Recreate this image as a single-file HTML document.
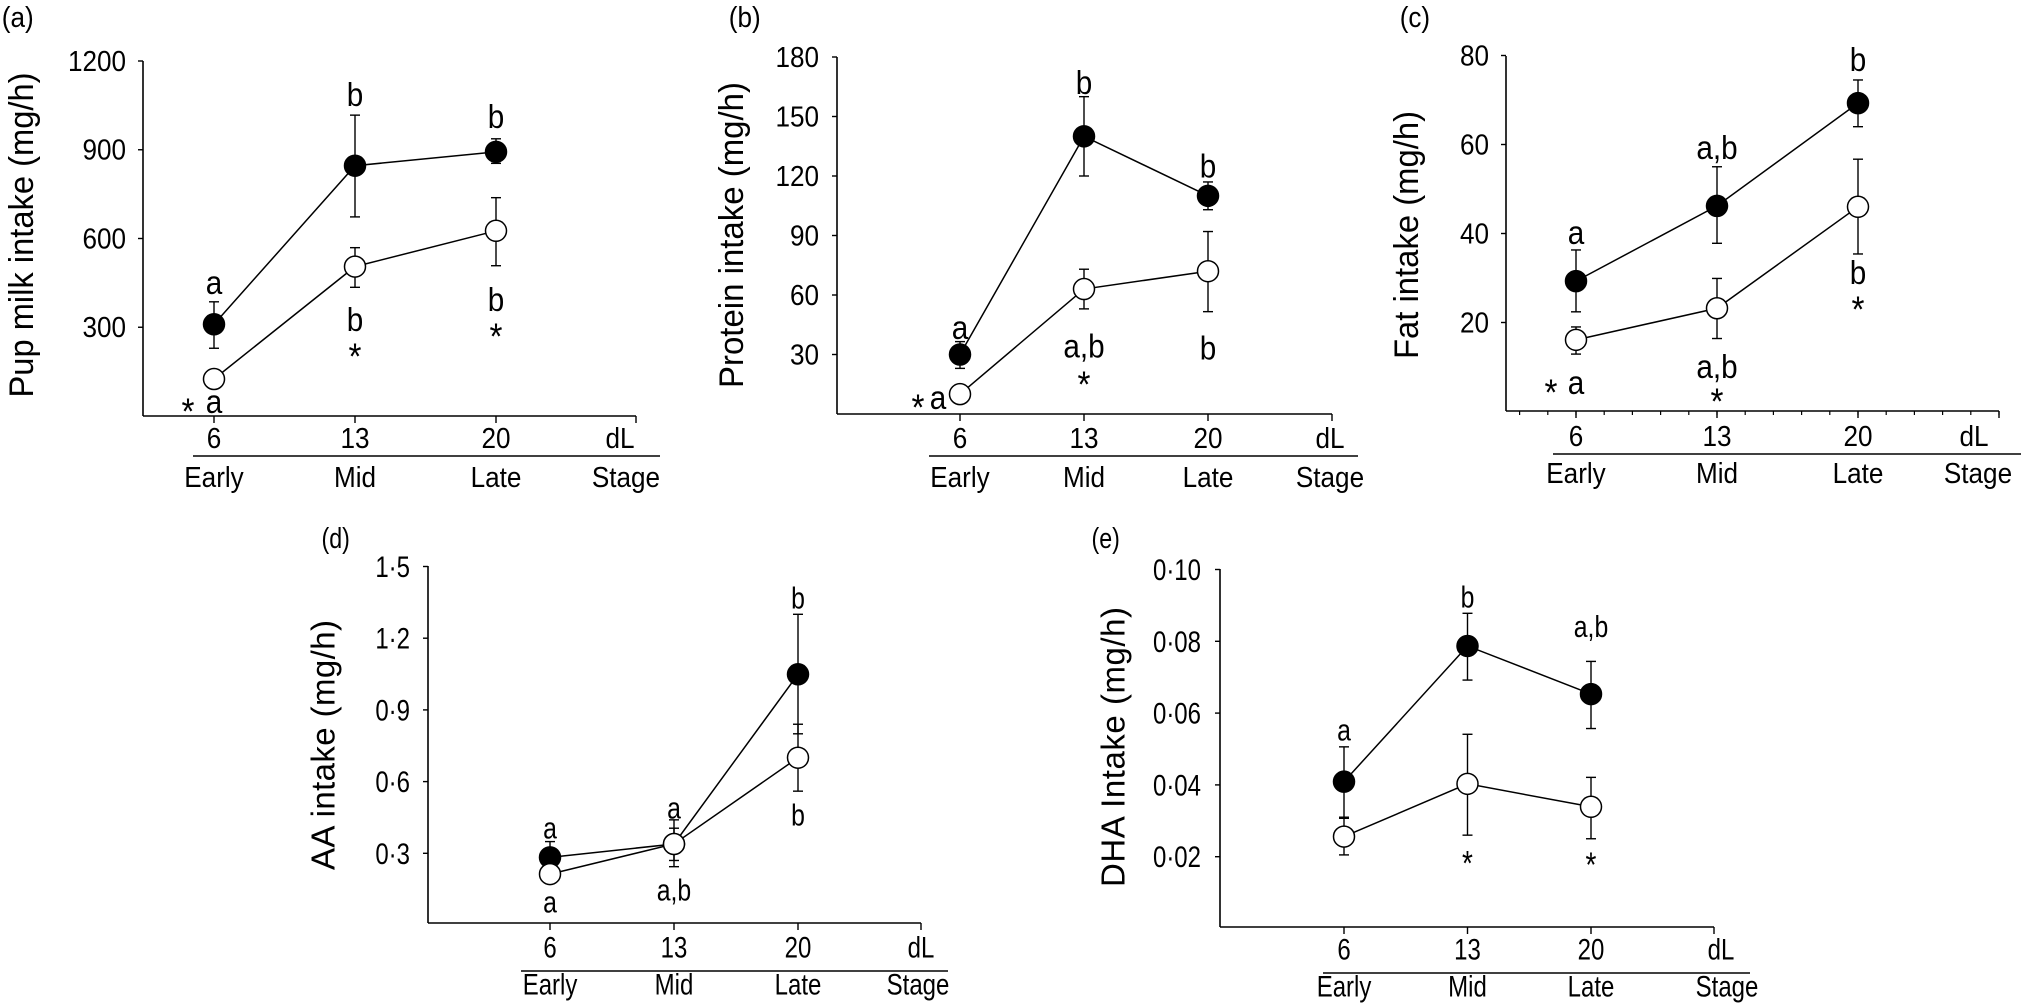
<!DOCTYPE html>
<html><head><meta charset="utf-8"><style>
html,body{margin:0;padding:0;background:#fff;}
svg{display:block;font-family:"Liberation Sans",Arial,sans-serif;}
.cond{transform-box:fill-box;transform-origin:center;transform:scaleX(0.8);}
.semi{transform-box:fill-box;transform-origin:center;transform:scaleX(0.9);}
</style></head><body>
<svg id="fig" width="2027" height="1005" viewBox="0 0 2027 1005" xmlns="http://www.w3.org/2000/svg"></svg>
<script>
// ----- shared categories -----
const days = [6, 13, 20];
const dayLabels = ["6", "13", "20", "dL"];
const stageLabels = ["Early", "Mid", "Late", "Stage"];

// ----- panel (a) pup milk intake -----
const aTicks = [300, 600, 900, 1200];
const aFilled = [310, 846, 893];
const aFilledHi = [386, 1017, 937];
const aFilledLo = [229, 673, 854];
const aOpen = [125, 505, 626];
const aOpenHi = [125, 569, 738];
const aOpenLo = [125, 435, 508];

// ----- panel (b) protein -----
const bTicks = [30, 60, 90, 120, 150, 180];
const bFilled = [30, 140, 110];
const bFilledHi = [36.5, 160, 117];
const bFilledLo = [23, 120, 103];
const bOpen = [10, 63, 72];
const bOpenHi = [10, 73, 92];
const bOpenLo = [10, 53, 51.6];

// ----- panel (c) fat -----
const cTicks = [20, 40, 60, 80];
const cFilled = [29.3, 46.2, 69.3];
const cFilledHi = [36.3, 55, 74.5];
const cFilledLo = [22.4, 37.8, 64];
const cOpen = [16.1, 23.2, 46];
const cOpenHi = [19, 29.9, 56.7];
const cOpenLo = [12.9, 16.4, 35.4];

// ----- panel (d) AA -----
const dTicks = [0.3, 0.6, 0.9, 1.2, 1.5];
const dTickLabels = ["0·3", "0·6", "0·9", "1·2", "1·5"];
const dFilled = [0.283, 0.339, 1.049];
const dFilledHi = [0.349, 0.405, 1.30];
const dFilledLo = [0.22, 0.27, 0.80];
const dOpen = [0.213, 0.339, 0.70];
const dOpenHi = [0.213, 0.44, 0.84];
const dOpenLo = [0.174, 0.244, 0.56];

// ----- panel (e) DHA -----
const eTicks = [0.02, 0.04, 0.06, 0.08, 0.10];
const eTickLabels = ["0·02", "0·04", "0·06", "0·08", "0·10"];
const eFilled = [0.0409, 0.0787, 0.0653];
const eFilledHi = [0.0506, 0.0878, 0.0744];
const eFilledLo = [0.0307, 0.0692, 0.0557];
const eOpen = [0.0256, 0.0403, 0.0339];
const eOpenHi = [0.031, 0.0541, 0.0421];
const eOpenLo = [0.0205, 0.026, 0.025];

// annotations: [dayIndex, value, text, dxOffset]
const aNotes = [[0,450,"a",0],[0,47,"*",-26],[0,47,"a",0],[1,1085,"b",0],[2,1011,"b",0],[1,325,"b",0],[1,233,"*",0],[2,392,"b",0],[2,301,"*",0]];
const bNotes = [[0,43.4,"a",0],[0,8,"*",-42],[0,8,"a",-22],[1,167,"b",0],[2,124.7,"b",0],[1,34,"a,b",0],[1,19.7,"*",0],[2,33,"b",0]];
const cNotes = [[0,40.1,"a",0],[0,6.4,"*",-25],[0,6.4,"a",0],[1,59.2,"a,b",0],[2,79,"b",0],[1,10,"a,b",0],[1,4.4,"*",0],[2,31.1,"b",0],[2,25.1,"*",0]];
const dNotes = [[0,0.406,"a",0],[0,0.097,"a",0],[1,0.49,"a",0],[1,0.146,"a,b",0],[2,1.368,"b",0],[2,0.46,"b",0]];
const eNotes = [[0,0.0553,"a",0],[1,0.0924,"b",0],[2,0.0841,"a,b",0],[1,0.021,"*",0],[2,0.0205,"*",0]];

const NS = "http://www.w3.org/2000/svg";
const svg = document.getElementById("fig");
function mk(tag, attrs, parent){ const e=document.createElementNS(NS,tag); for(const k in attrs) e.setAttribute(k,attrs[k]); (parent||svg).appendChild(e); return e; }

function panel(P){
  const g = mk("g",{});
  
  
  const X = d => P.x6 + (d-6)*P.dx/7;
  const Y = v => P.y0 - v*P.ky;
  const cls = P.cond ? "cond" : "semi";
  const pl = mk("text",{x:P.labX,y:P.labY,"font-size":29,"dominant-baseline":"central",class:cls},g);
  pl.textContent = P.label;
  
  
  const ya = mk("line",{x1:P.ax,y1:P.top,x2:P.ax,y2:P.axY,stroke:"#000","stroke-width":1.6},g);
  
  
  const xa = mk("line",{x1:P.ax,y1:P.axY,x2:P.xend,y2:P.axY,stroke:"#000","stroke-width":1.6},g);
  
  
  P.ticks.forEach((t,i)=>{
    const yy = Y(t);
    mk("line",{x1:P.ax-5,y1:yy,x2:P.ax,y2:yy,stroke:"#000","stroke-width":1.4},g);
    const tl = mk("text",{x:P.tickRight,y:yy,"font-size":P.tickFs,"text-anchor":"end","dominant-baseline":"central",class:cls,style:"transform-origin:right center"},g);
    tl.textContent = P.tickLabels ? P.tickLabels[i] : String(t);
    
    
  });
  if(P.minor){
    for(let d=6-2*1.4; d<=27.01; d+=1.4){
      const xx=X(d);
      mk("line",{x1:xx,y1:P.axY,x2:xx,y2:P.axY+4,stroke:"#000","stroke-width":1.2},g);
    }
  }
  const tickDays = days.concat([27]);
  tickDays.forEach((d,i)=>{
    const xx = i<3 ? X(d) : P.xend;
    mk("line",{x1:xx,y1:P.axY,x2:xx,y2:P.axY+7,stroke:"#000","stroke-width":1.4},g);
    const tl = mk("text",{x:i<3?xx:P.dLx,y:P.numY,"font-size":P.tickFs,"text-anchor":"middle","dominant-baseline":"central",class:cls},g);
    tl.textContent = dayLabels[i];
    
    
    const sl = mk("text",{x:i<3?xx:P.stageX,y:P.stageY,"font-size":P.tickFs,"text-anchor":"middle","dominant-baseline":"central",class:cls},g);
    sl.textContent = stageLabels[i];
    
    
  });
  const ul = mk("line",{x1:P.ulx1,y1:P.ulY,x2:P.ulx2,y2:P.ulY,stroke:"#000","stroke-width":1.4},g);
  
  
  const tt = mk("text",{x:0,y:0,"font-size":P.titleFs,"text-anchor":"middle","dominant-baseline":"central",transform:`translate(${P.titleX},${P.titleY}) rotate(-90)`,textLength:P.titleLen,lengthAdjust:P.titleAdj||"spacingAndGlyphs"},g);
  tt.textContent = P.title;
  
  
  const series = [
    {v:P.filled,hi:P.filledHi,lo:P.filledLo,fill:"#000",name:"filled"},
    {v:P.open,hi:P.openHi,lo:P.openLo,fill:"#fff",name:"open"}
  ];
  series.forEach(s=>{
    const pts = s.v.map((v,i)=>X(days[i])+","+Y(v)).join(" ");
    const pl2 = mk("polyline",{points:pts,fill:"none",stroke:"#000","stroke-width":1.5},g);
    
    
  });
  series.forEach(s=>{
    s.v.forEach((v,i)=>{
      const xx=X(days[i]);
      const eb = mk("g",{},g);
      
      
      mk("line",{x1:xx,y1:Y(s.hi[i]),x2:xx,y2:Y(s.lo[i]),stroke:"#000","stroke-width":1.4},eb);
      mk("line",{x1:xx-5,y1:Y(s.hi[i]),x2:xx+5,y2:Y(s.hi[i]),stroke:"#000","stroke-width":1.4},eb);
      mk("line",{x1:xx-5,y1:Y(s.lo[i]),x2:xx+5,y2:Y(s.lo[i]),stroke:"#000","stroke-width":1.4},eb);
    });
  });
  series.forEach(s=>{
    s.v.forEach((v,i)=>{
      const c = mk("circle",{cx:X(days[i]),cy:Y(v),r:10.5,fill:s.fill,stroke:"#000","stroke-width":1.5},g);
      
      
    });
  });
  P.notes.forEach(n=>{
    const isStar = n[2]==="*";
    const t = mk("text",{x:X(days[n[0]])+n[3],y:Y(n[1])+(isStar?10:0),"font-size":isStar?P.noteFs+4:P.noteFs,"text-anchor":"middle","dominant-baseline":"central",class:cls},g);
    t.textContent = n[2];
    
    
  });
}

panel({name:"panel-a-milk",label:"(a)",labX:0,labY:17,ax:143,top:61,axY:416,xend:636,x6:214,dx:141,y0:416,ky:355/1200,
  ticks:aTicks,tickRight:126,tickFs:29,numY:438,stageY:477,ulY:456,ulx1:193,ulx2:660,dLx:620,stageX:626,
  title:"Pup milk intake (mg/h)",titleX:22,titleY:235,titleLen:325,titleFs:34,noteFs:33,
  filled:aFilled,filledHi:aFilledHi,filledLo:aFilledLo,open:aOpen,openHi:aOpenHi,openLo:aOpenLo,notes:aNotes});
panel({name:"panel-b-protein",label:"(b)",labX:727,labY:17,ax:837,top:57,axY:414,xend:1332,x6:960,dx:124,y0:414,ky:59.5/30,
  ticks:bTicks,tickRight:819,tickFs:29,numY:438,stageY:477,ulY:456,ulx1:929,ulx2:1358,dLx:1330,stageX:1330,
  title:"Protein intake (mg/h)",titleX:732,titleY:235,titleLen:306,titleFs:34,noteFs:33,
  filled:bFilled,filledHi:bFilledHi,filledLo:bFilledLo,open:bOpen,openHi:bOpenHi,openLo:bOpenLo,notes:bNotes});
panel({name:"panel-c-fat",label:"(c)",labX:1398,labY:17,ax:1506,top:56,axY:411,xend:1999,x6:1576,dx:141,y0:411.5,ky:4.45,minor:true,
  ticks:cTicks,tickRight:1489,tickFs:29,numY:436,stageY:473,ulY:454,ulx1:1553,ulx2:2021,dLx:1974,stageX:1978,
  title:"Fat intake (mg/h)",titleX:1407,titleY:235,titleLen:248,titleFs:34,noteFs:33,
  filled:cFilled,filledHi:cFilledHi,filledLo:cFilledLo,open:cOpen,openHi:cOpenHi,openLo:cOpenLo,notes:cNotes});
panel({name:"panel-d-aa",label:"(d)",labX:318,labY:538,ax:428,top:566,axY:923,xend:921,x6:550,dx:124,y0:925,ky:239,cond:true,
  ticks:dTicks,tickLabels:dTickLabels,tickRight:410,tickFs:30,numY:947,stageY:984,ulY:971,ulx1:521,ulx2:948,dLx:921,stageX:918,
  title:"AA intake (mg/h)",titleX:323,titleY:745,titleLen:250,titleFs:33,titleAdj:"spacing",noteFs:31,
  filled:dFilled,filledHi:dFilledHi,filledLo:dFilledLo,open:dOpen,openHi:dOpenHi,openLo:dOpenLo,notes:dNotes});
panel({name:"panel-e-dha",label:"(e)",labX:1088,labY:538,ax:1220,top:569,axY:927,xend:1714,x6:1344,dx:123.5,y0:928.5,ky:3590,cond:true,
  ticks:eTicks,tickLabels:eTickLabels,tickRight:1201,tickFs:30,numY:949,stageY:986,ulY:973,ulx1:1323,ulx2:1750,dLx:1721,stageX:1727,
  title:"DHA Intake (mg/h)",titleX:1113,titleY:747,titleLen:280,titleFs:33,titleAdj:"spacing",noteFs:31,
  filled:eFilled,filledHi:eFilledHi,filledLo:eFilledLo,open:eOpen,openHi:eOpenHi,openLo:eOpenLo,notes:eNotes});
</script>
</body></html>
